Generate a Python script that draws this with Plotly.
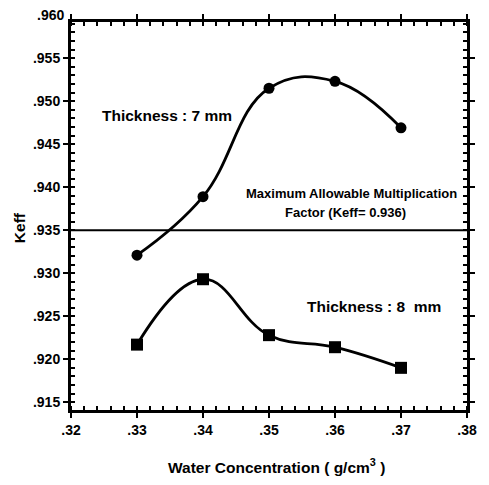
import plotly.graph_objects as go

water = [0.33, 0.34, 0.35, 0.36, 0.37]
keff_7mm = [0.9321, 0.9389, 0.9515, 0.9523, 0.9469]
keff_8mm = [0.9217, 0.9293, 0.9228, 0.9214, 0.9190]
limit_keff = 0.935
x_ticks = [0.32, 0.33, 0.34, 0.35, 0.36, 0.37, 0.38]
x_labels = [".32", ".33", ".34", ".35", ".36", ".37", ".38"]
y_ticks = [0.915, 0.920, 0.925, 0.930, 0.935, 0.940, 0.945, 0.950, 0.955]
y_labels = [".915", ".920", ".925", ".930", ".935", ".940", ".945", ".950", ".955"]
y_top_label = ".960"

FONT = "Liberation Sans, Arial, sans-serif"

fig = go.Figure()
fig.add_trace(go.Scatter(
    x=[0.32, 0.38], y=[limit_keff, limit_keff], mode="lines",
    line=dict(color="black", width=2), showlegend=False, hoverinfo="skip"))
fig.add_trace(go.Scatter(
    x=water, y=keff_7mm, mode="lines+markers",
    line=dict(color="black", width=2.8, shape="spline", smoothing=1.2),
    marker=dict(symbol="circle", size=11, color="black"),
    showlegend=False))
fig.add_trace(go.Scatter(
    x=water, y=keff_8mm, mode="lines+markers",
    line=dict(color="black", width=2.8, shape="spline", smoothing=1.2),
    marker=dict(symbol="square", size=12, color="black"),
    showlegend=False))

tickfont = dict(family=FONT, size=14, color="black")
fig.update_xaxes(
    range=[0.32, 0.38], tickvals=x_ticks, ticktext=[f"<b>{t}</b>" for t in x_labels],
    tickfont=tickfont, ticks="outside", ticklen=5, tickwidth=2, tickcolor="black",
    minor=dict(dtick=0.002, ticks="inside", ticklen=4, tickwidth=2, tickcolor="black"),
    showline=True, linecolor="black", linewidth=3, mirror="ticks",
    showgrid=False, zeroline=False)
fig.update_yaxes(
    range=[0.9141, 0.9592], tickvals=y_ticks, ticktext=[f"<b>{t}</b>" for t in y_labels],
    tickfont=tickfont, ticks="outside", ticklen=5, tickwidth=2, tickcolor="black",
    minor=dict(dtick=0.001, tick0=0.915, ticks="inside", ticklen=4, tickwidth=1.5, tickcolor="black"),
    showline=True, linecolor="black", linewidth=3, mirror="ticks",
    showgrid=False, zeroline=False)

txt = dict(family=FONT, size=15.5, color="black")
small = dict(family=FONT, size=13, color="black")
y0, y1 = 0.9141, 0.9592
top_paper = (0.960 - y0) / (y1 - y0)
annotations = [
    dict(x=0.3345, y=0.9483, xref="x", yref="y", text="<b>Thickness : 7 mm</b>",
         showarrow=False, font=txt),
    dict(x=0.3659, y=0.9261, xref="x", yref="y", text="<b>Thickness : 8  mm</b>",
         showarrow=False, font=txt),
    dict(x=0.3625, y=0.9393, xref="x", yref="y", text="<b>Maximum Allowable Multiplication</b>",
         showarrow=False, font=small),
    dict(x=0.3616, y=0.9370, xref="x", yref="y", text="<b>Factor (Keff= 0.936)</b>",
         showarrow=False, font=small),
    dict(x=-0.012, y=top_paper, xref="paper", yref="paper", text=f"<b>{y_top_label}</b>",
         showarrow=False, font=tickfont, xanchor="right", yanchor="middle"),
    dict(x=-0.13, y=0.47, xref="paper", yref="paper", text="<b>Keff</b>", showarrow=False,
         font=txt, textangle=-90, xanchor="center", yanchor="middle"),
    dict(x=0.52, y=-0.145, xref="paper", yref="paper",
         text="<b>Water Concentration ( g/cm<sup>3</sup> )</b>", showarrow=False, font=txt,
         xanchor="center", yanchor="middle"),
]
fig.update_layout(
    width=489, height=485,
    margin=dict(l=71, r=13, t=22, b=75),
    paper_bgcolor="white", plot_bgcolor="white",
    annotations=annotations,
    font=dict(family=FONT, color="black"),
)
fig.write_html("out.html")
